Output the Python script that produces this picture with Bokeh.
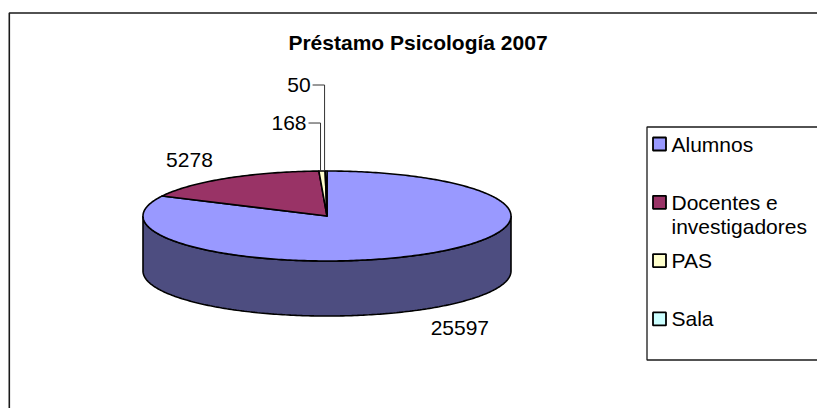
import numpy as np
from bokeh.plotting import figure
from bokeh.models import Range1d
from bokeh.core.properties import value
from bokeh.embed import file_html
from bokeh.resources import INLINE

# ---- data ----
title = "Préstamo Psicología 2007"
categories = ["Alumnos", "Docentes e\ninvestigadores", "PAS", "Sala"]
values = [25597, 5278, 168, 50]
top_colors = ["#9999FF", "#993366", "#FFFFCC", "#CCFFFF"]
side_colors = ["#4D4D80", "#4D1A33", "#808066", "#668080"]

FONT = value("Liberation Sans")

W, H = 817, 408
p = figure(width=W, height=H, output_backend="svg", toolbar_location=None,
           x_range=Range1d(0, W), y_range=Range1d(H, 0),
           min_border=0, outline_line_color=None)
p.axis.visible = False
p.grid.visible = False
p.background_fill_color = "white"

# chart border (left and top visible, rest off-page)
p.quad(left=[8.8], right=[840], top=[12.5], bottom=[430], fill_color=None,
       line_color="#1a1a1a", line_width=1.6)

# title
p.text(x=[417.5], y=[42], text=[title], text_font=FONT, text_font_size="21px",
       text_font_style="bold", text_align="center", text_baseline="middle",
       text_color="black")

# ---- 3D pie geometry ----
cx, cy, a, b, depth = 326.5, 215.5, 184.0, 45.0, 55.0
vals = np.array(values, dtype=float)
frac = vals / vals.sum()
ends = np.cumsum(frac) * 2 * np.pi
starts = ends - frac * 2 * np.pi

def ex(t):
    return cx + a * np.sin(t)

def ey(t, dz=0.0):
    return cy - b * np.cos(t) + dz

# side walls (front half: pi/2 .. 3pi/2)
sxs, sys_, scol = [], [], []
for s, e, c in zip(starts, ends, side_colors):
    lo, hi = max(s, np.pi / 2), min(e, 3 * np.pi / 2)
    if hi <= lo:
        continue
    t = np.linspace(lo, hi, 200)
    xs = np.concatenate([ex(t), ex(t[::-1])])
    ys = np.concatenate([ey(t), ey(t[::-1], depth)])
    sxs.append(list(xs)); sys_.append(list(ys)); scol.append(c)
p.patches(xs=sxs, ys=sys_, fill_color=scol, line_color="black", line_width=1.6)

# top slices
txs, tys = [], []
for s, e in zip(starts, ends):
    n = max(int((e - s) / (2 * np.pi) * 400), 3)
    t = np.linspace(s, e, n)
    txs.append([cx] + list(ex(t)) + [cx])
    tys.append([cy] + list(ey(t)) + [cy])
p.patches(xs=txs, ys=tys, fill_color=top_colors, line_color="black",
          line_width=1.6, line_join="round")

# ---- data labels ----
mids = (starts + ends) / 2
lab_rx, lab_ry = a + 68, b + 22
small_rise = [0, 0, 48, 86]   # leader heights above rim for tiny slices
bx, by, bt = [], [], []
lx, ly = [], []
for i, (m, v) in enumerate(zip(mids, values)):
    if frac[i] > 0.05:
        x = cx + lab_rx * np.sin(m)
        y = cy - lab_ry * np.cos(m) + (depth if np.cos(m) < 0 else 0)
        bx.append(x); by.append(y); bt.append(str(v))
    else:
        x0 = ex(m) - 1.5
        y0 = ey(m)
        yl = y0 - small_rise[i]
        lx.append([x0, x0, x0 - 12]); ly.append([y0, yl, yl])
        p.text(x=[x0 - 14], y=[yl], text=[str(v)], text_font=FONT,
               text_font_size="21px", text_align="right", text_baseline="middle",
               text_color="black")
p.multi_line(xs=lx, ys=ly, line_color="#333333", line_width=1)
p.text(x=bx, y=by, text=bt, text_font=FONT, text_font_size="21px",
       text_align="center", text_baseline="middle", text_color="black")

# ---- legend ----
p.quad(left=[646.5], right=[840], top=[126.5], bottom=[359.5], fill_color="white",
       line_color="#1a1a1a", line_width=1.3)
row0, step = 143.5, 58.3
for i, (name, col) in enumerate(zip(categories, top_colors)):
    yc = row0 + i * step
    p.quad(left=[652.5], right=[665.5], top=[yc - 6.5], bottom=[yc + 6.5],
           fill_color=col, line_color="black", line_width=1.8)
    for k, line in enumerate(name.split("\n")):
        p.text(x=[671], y=[yc + k * 24], text=[line], text_font=FONT,
               text_font_size="21px", text_align="left", text_baseline="middle",
               text_color="black")

open("out.html", "w").write(file_html(p, INLINE))
